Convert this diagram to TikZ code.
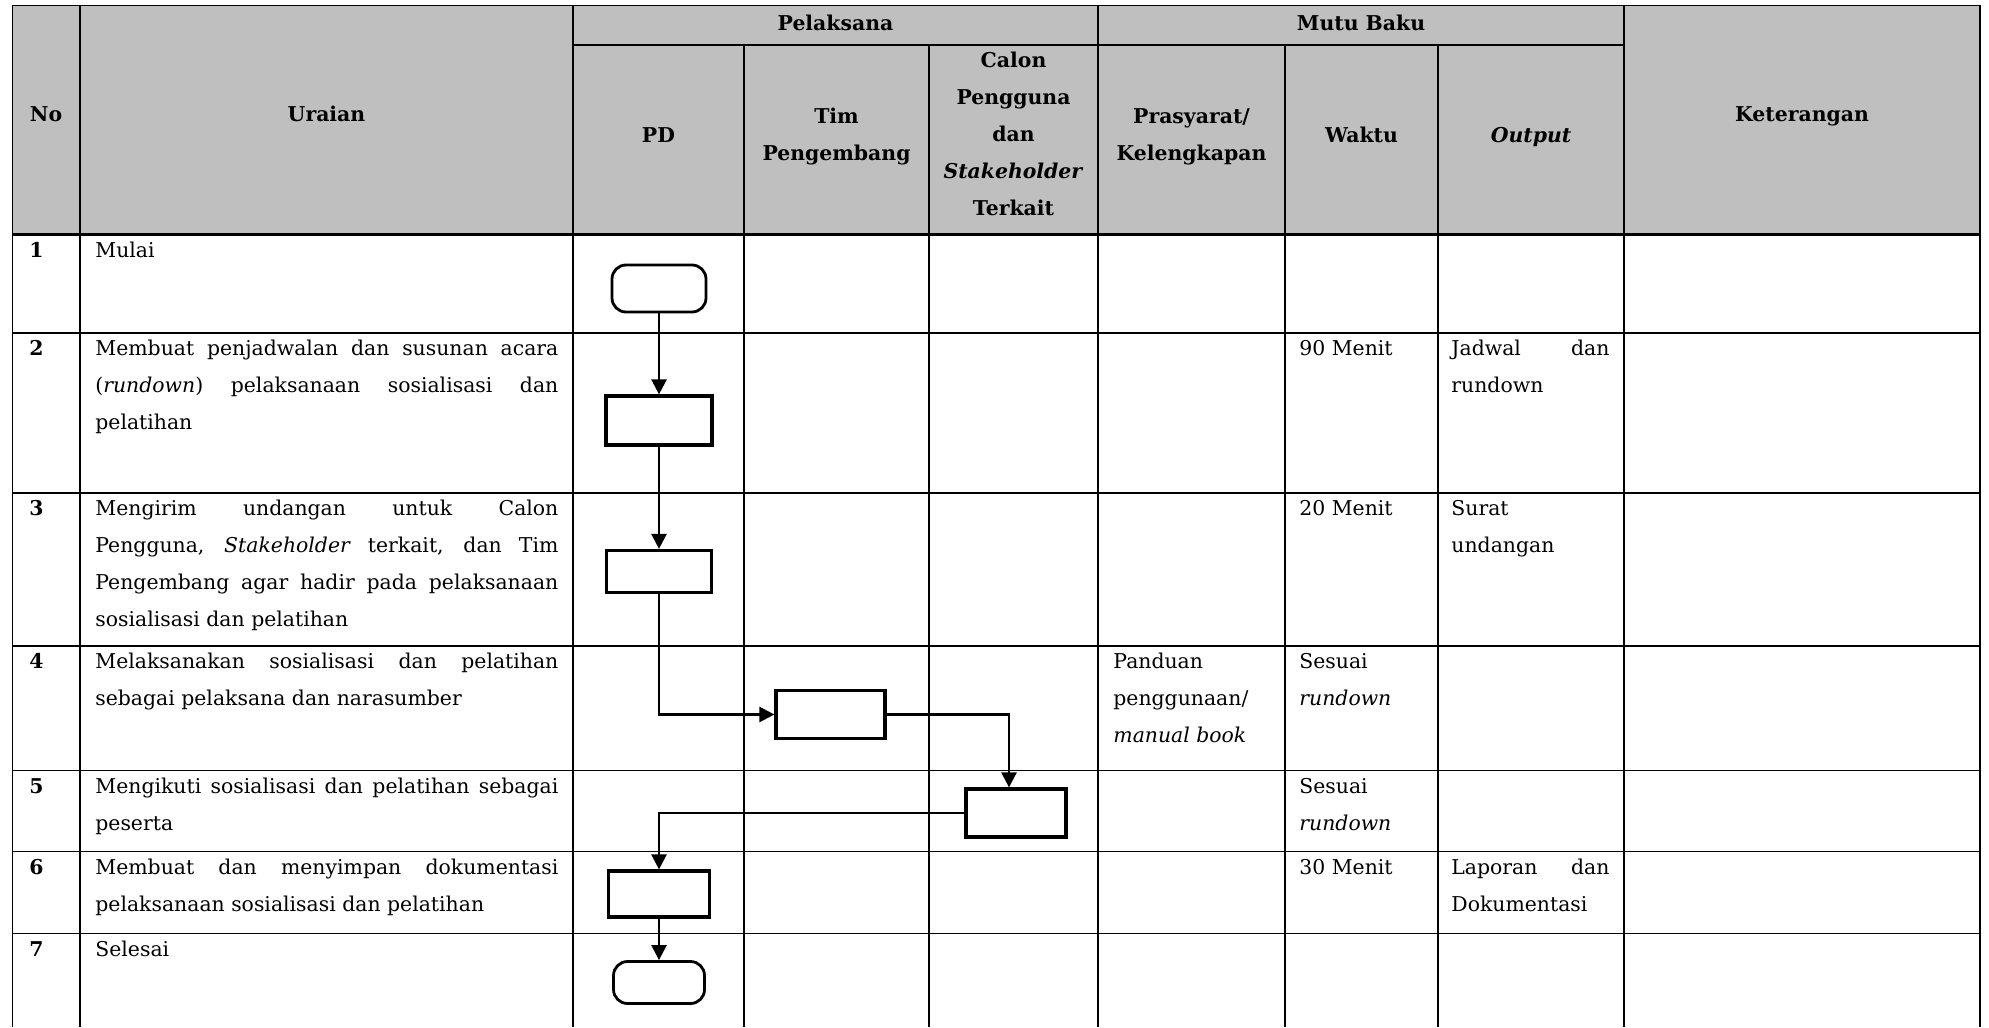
\documentclass[tikz,border=0pt]{standalone}
\usepackage{fontspec}
\setmainfont{DejaVu Serif}
\usetikzlibrary{arrows.meta}
\definecolor{hdr}{RGB}{191,191,191}
\tolerance=10000 \hyphenpenalty=10000 \exhyphenpenalty=10000
\newcommand{\Tp}{\noindent\rule{0pt}{12pt}}
\begin{document}
\begin{tikzpicture}[x=0.5pt,y=-0.5pt,
  gridline/.style={line width=0.9pt},
  txt/.style={inner sep=0pt, font=\fontsize{10.2}{18.5}\selectfont},
  hd/.style={inner sep=0pt, font=\fontsize{10.2}{18.5}\selectfont\bfseries, align=center, anchor=north},
  num/.style={inner sep=0pt, font=\fontsize{10.2}{18.5}\selectfont\bfseries, anchor=north west},
  para/.style={txt, anchor=north west, align=justify, text width=#1},
  lefttxt/.style={txt, anchor=north west, align=left},
  procbox/.style={draw, line width=1.6pt, fill=white, inner sep=0pt},
  termbox/.style={draw, line width=1.4pt, fill=white, inner sep=0pt, rounded corners=7pt},
  conn/.style={line width=1.2pt, -{Triangle[length=7.5pt,width=7.5pt]}}
]
\useasboundingbox (0,0) rectangle (1989,1027);
% header fill
\fill[hdr] (12.5,5.5) rectangle (1980,234.5);
% vertical lines
\foreach \x in {12.5,80,573,1098,1624,1980}
  \draw[gridline] (\x,5.5) -- (\x,1027);
\foreach \x in {744,929,1285,1438}
  \draw[gridline] (\x,45) -- (\x,1027);
% horizontal lines
\draw[gridline] (12.5,5.5) -- (1980,5.5);
\draw[line width=0.6pt] (573,45) -- (1624,45);
\draw[line width=1.3pt] (12.5,234.5) -- (1980,234.5);
\foreach \y in {333,493,646,770.5,851.5,933.5}
  \draw[gridline] (12.5,\y) -- (1980,\y);

% header texts
\node[hd] (hNo) at (46,97) {\Tp No};
\node[hd] (hUr) at (326.5,97) {\Tp Uraian};
\node[hd] (hPel) at (835.5,6) {\Tp Pelaksana};
\node[hd] (hMutu) at (1361,6) {\Tp Mutu Baku};
\node[hd] (hKet) at (1802,97) {\Tp Keterangan};
\node[hd] (hPD) at (658.5,118) {\Tp PD};
\node[hd] (hTim) at (836.5,99) {\Tp Tim\\Pengembang};
\node[hd] (hCal) at (1013.5,43) {\Tp Calon\\Pengguna\\dan\\\textit{Stakeholder}\\Terkait};
\node[hd] (hPra) at (1191.5,99) {\Tp Prasyarat/\\Kelengkapan};
\node[hd] (hWak) at (1361.5,118) {\Tp Waktu};
\node[hd] (hOut) at (1531,118) {\Tp \textit{Output}};

% row numbers
\node[num] (n1) at (29,233) {\Tp 1};
\node[num] (n2) at (29,331.5) {\Tp 2};
\node[num] (n3) at (29,491.5) {\Tp 3};
\node[num] (n4) at (29,644.5) {\Tp 4};
\node[num] (n5) at (29,769) {\Tp 5};
\node[num] (n6) at (29,850) {\Tp 6};
\node[num] (n7) at (29,932) {\Tp 7};

% uraian
\node[para=231.5pt] (u1) at (95,233) {\Tp Mulai};
\node[para=231.5pt] (u2) at (95,331.5) {\Tp Membuat penjadwalan dan susunan acara\linebreak (\textit{rundown}) pelaksanaan sosialisasi dan\linebreak pelatihan};
\node[para=231.5pt] (u3) at (95,491.5) {\Tp Mengirim undangan untuk Calon\linebreak Pengguna, \textit{Stakeholder} terkait, dan Tim\linebreak Pengembang agar hadir pada pelaksanaan\linebreak sosialisasi dan pelatihan};
\node[para=231.5pt] (u4) at (95,644.5) {\Tp Melaksanakan sosialisasi dan pelatihan\linebreak sebagai pelaksana dan narasumber};
\node[para=231.5pt] (u5) at (95,769) {\Tp Mengikuti sosialisasi dan pelatihan sebagai\linebreak peserta};
\node[para=231.5pt] (u6) at (95,850) {\Tp Membuat dan menyimpan dokumentasi\linebreak pelaksanaan sosialisasi dan pelatihan};
\node[para=231.5pt] (u7) at (95,932) {\Tp Selesai};

% prasyarat
\node[lefttxt] (p4) at (1113,644.5) {\Tp Panduan\\penggunaan/\\\textit{manual book}};

% waktu
\node[lefttxt] (w2) at (1299,331.5) {\Tp 90 Menit};
\node[lefttxt] (w3) at (1299,491.5) {\Tp 20 Menit};
\node[lefttxt] (w4) at (1299,644.5) {\Tp Sesuai\\\textit{rundown}};
\node[lefttxt] (w5) at (1299,769) {\Tp Sesuai\\\textit{rundown}};
\node[lefttxt] (w6) at (1299,850) {\Tp 30 Menit};

% output
\node[para=79pt] (o2) at (1451,331.5) {\Tp Jadwal dan\linebreak rundown};
\node[para=79pt] (o3) at (1451,491.5) {\Tp Surat\linebreak undangan};
\node[para=79pt] (o6) at (1451,850) {\Tp Laporan dan\linebreak Dokumentasi};

% flowchart
\node[termbox, minimum width=47pt, minimum height=23.5pt] (t1) at (659,288.5) {};
\node[procbox, minimum width=53pt, minimum height=24.5pt] (b2) at (659,420.5) {};
\node[procbox, minimum width=52.5pt, minimum height=21pt] (b3) at (659,571.5) {};
\node[procbox, minimum width=54.5pt, minimum height=24pt] (b4) at (830.5,714.5) {};
\node[procbox, minimum width=50pt, minimum height=24pt] (b5) at (1016,813) {};
\node[procbox, minimum width=50.5pt, minimum height=23pt] (b6) at (659,894) {};
\node[termbox, minimum width=45.5pt, minimum height=21pt] (t2) at (659,982.5) {};

\draw[conn] (t1.south) -- (b2.north);
\draw[conn] (b2.south) -- (b3.north);
\draw[conn] (b3.south) |- (b4.west);
\draw[conn] (b4.east) -| ([xshift=-3.5pt]b5.north);
\draw[conn] (b5.west) -| (b6.north);
\draw[conn] (b6.south) -- (t2.north);
\end{tikzpicture}
\end{document}
